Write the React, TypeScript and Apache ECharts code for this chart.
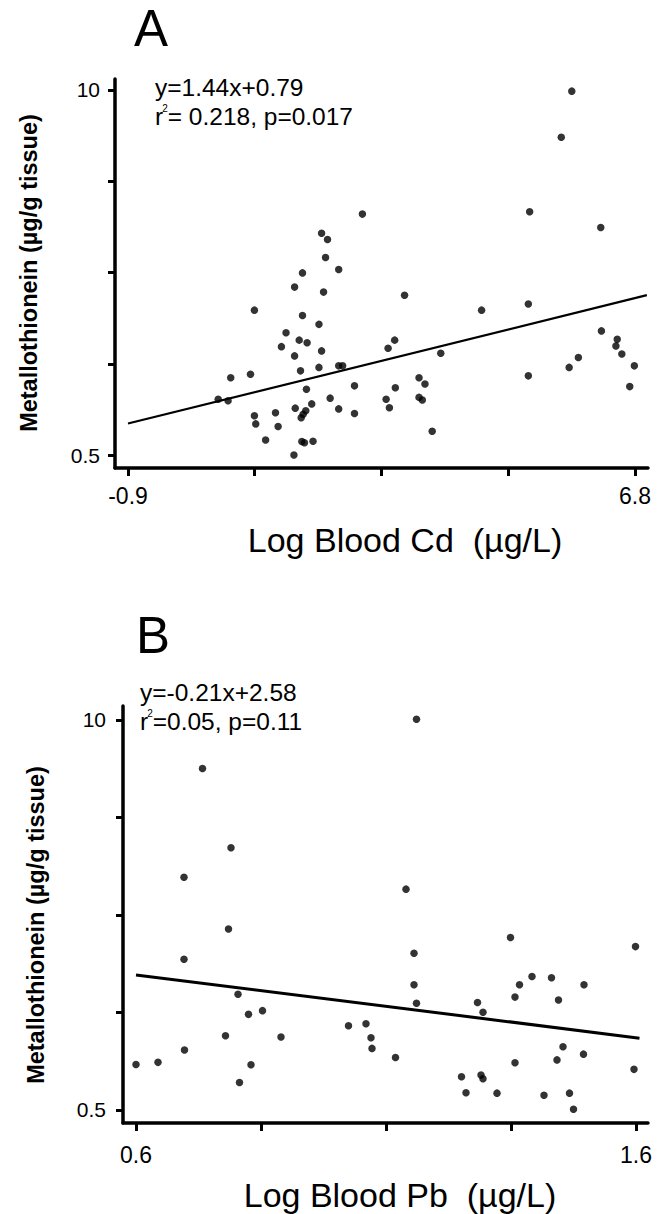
import React, { useEffect, useRef } from "react";
import * as echarts from "echarts";

// Panel A: Log Blood Cd vs Metallothionein
const cdX = [5.84, 5.68, 2.66, 5.2, 6.28, 2.04, 2.13, 2.1, 1.75, 2.3, 1.63, 2.07, 3.3, 1.02, 4.47, 5.18, 1.75, 2.0, 1.5, 6.29, 1.7, 1.82, 3.15, 3.05, 6.53, 6.51, 6.6, 1.43, 2.04, 1.63, 3.85, 5.94, 5.8, 6.79, 2.0, 2.3, 2.36, 1.72, 0.96, 0.66, 5.18, 3.52, 3.61, 2.54, 3.16, 1.81, 6.72, 0.47, 0.62, 2.17, 3.02, 3.52, 3.57, 1.89, 1.64, 2.3, 3.07, 1.8, 2.54, 1.34, 1.02, 1.76, 1.73, 1.04, 1.38, 3.72, 1.19, 1.74, 1.78, 1.91, 1.62];
const cdY = [9.97, 8.77, 6.77, 6.83, 6.42, 6.27, 6.11, 5.64, 5.24, 5.33, 4.87, 4.74, 4.66, 4.27, 4.27, 4.43, 4.13, 3.9, 3.68, 3.73, 3.49, 3.42, 3.49, 3.28, 3.51, 3.34, 3.13, 3.32, 3.21, 3.08, 3.15, 3.04, 2.78, 2.82, 2.78, 2.82, 2.82, 2.69, 2.6, 2.51, 2.56, 2.51, 2.35, 2.3, 2.25, 2.21, 2.28, 1.95, 1.91, 1.98, 1.95, 2.0, 1.93, 1.83, 1.72, 1.7, 1.73, 1.65, 1.58, 1.6, 1.52, 1.56, 1.47, 1.31, 1.24, 1.12, 0.89, 0.85, 0.82, 0.86, 0.5];
const cdFitX = [-0.9, 6.98];
const cdFitY = [1.32, 4.66];
const cdXTicks = [-0.9, 1.025, 2.95, 4.875, 6.8];
const cdXLabels = [-0.9, 6.8];

// Panel B: Log Blood Pb vs Metallothionein
const pbX = [1.161, 0.733, 0.79, 0.696, 1.14, 0.785, 1.349, 1.599, 1.156, 0.696, 1.392, 1.431, 1.156, 1.367, 1.496, 0.804, 1.358, 1.445, 1.283, 1.161, 0.853, 1.294, 0.825, 1.06, 1.025, 0.779, 0.89, 1.07, 1.072, 1.454, 0.697, 1.495, 1.119, 1.442, 0.6, 0.644, 1.358, 0.83, 1.596, 1.251, 1.29, 1.294, 0.807, 1.26, 1.322, 1.416, 1.467, 1.475];
const pbY = [10.02, 8.82, 6.89, 6.17, 5.88, 4.91, 4.7, 4.48, 4.32, 4.17, 3.75, 3.72, 3.55, 3.55, 3.55, 3.32, 3.25, 3.18, 3.12, 3.1, 2.92, 2.88, 2.83, 2.6, 2.55, 2.31, 2.28, 2.26, 2.0, 2.04, 1.96, 1.86, 1.78, 1.72, 1.61, 1.66, 1.65, 1.6, 1.49, 1.31, 1.35, 1.26, 1.17, 0.92, 0.91, 0.86, 0.91, 0.52];
const pbFitX = [0.6, 1.607];
const pbFitY = [3.79, 2.25];
const pbXTicks = [0.6, 0.85, 1.1, 1.35, 1.6];
const pbXLabels = [0.6, 1.6];

// Shared y axis (Metallothionein)
const mtTicks = [0.5, 2.875, 5.25, 7.625, 10];
const mtLabels = [0.5, 10];

const FONT = "'Liberation Sans', Arial, Helvetica, sans-serif";

function txt(text: string, x: number, y: number, size: number, extra: any = {}) {
  return {
    type: "text",
    x,
    y,
    rotation: extra.rotation || 0,
    silent: true,
    style: {
      text,
      fill: "#000",
      fontSize: size,
      fontFamily: FONT,
      fontWeight: extra.weight || "normal",
      align: extra.align || "left",
      textAlign: extra.align || "left",
      verticalAlign: extra.valign || "middle",
      textVerticalAlign: extra.valign || "middle",
    },
  };
}

function rText(before: string, after: string, x: number, y: number) {
  return {
    type: "text",
    x,
    y,
    silent: true,
    style: {
      text: `{r|${before}}{s|2}{r|${after}}`,
      fill: "#000",
      fontFamily: FONT,
      fontSize: 24.5,
      align: "left",
      verticalAlign: "middle",
      rich: {
        r: { fontSize: 24.5, fontFamily: FONT, fill: "#000", lineHeight: 26, verticalAlign: "bottom" },
        s: { fontSize: 10, fontFamily: FONT, fill: "#000", lineHeight: 26, verticalAlign: "top", padding: [0, 0, 0, -1] },
      },
    },
  };
}

function xAxisCfg(grid: number, min: number, max: number, ticks: number[], labels: number[], margin: number) {
  return {
    type: "value",
    gridIndex: grid,
    min,
    max,
    splitLine: { show: false },
    axisLine: { show: true, onZero: false, lineStyle: { color: "#000", width: 3.5 } },
    axisTick: { show: true, customValues: ticks, length: 8, lineStyle: { color: "#000", width: 3 } },
    axisLabel: {
      customValues: labels,
      fontSize: 23,
      color: "#000",
      margin,
      fontFamily: FONT,
      formatter: (v: number) => String(v),
    },
  };
}

function yAxisCfg(grid: number, min: number, max: number, margin: number) {
  return {
    type: "value",
    gridIndex: grid,
    min,
    max,
    splitLine: { show: false },
    axisLine: { show: true, onZero: false, lineStyle: { color: "#000", width: 3.5 } },
    axisTick: { show: true, customValues: mtTicks, length: 7, lineStyle: { color: "#000", width: 3 } },
    axisLabel: {
      customValues: mtLabels,
      fontSize: 21,
      color: "#000",
      margin,
      fontFamily: FONT,
      formatter: (v: number) => String(v),
    },
  };
}

export default function App() {
  const ref = useRef<HTMLDivElement>(null);

  useEffect(() => {
    document.body.style.margin = "0";
    if (!ref.current) return;
    const chart = echarts.init(ref.current, null, { renderer: "svg" });
    const option: any = {
      animation: false,
      backgroundColor: "#fff",
      textStyle: { fontFamily: FONT },
      grid: [
        { left: 115, top: 79, width: 533, height: 389 },
        { left: 123, top: 706, width: 525, height: 417 },
      ],
      xAxis: [
        xAxisCfg(0, -1.0974, 6.9974, cdXTicks, cdXLabels, 16),
        xAxisCfg(1, 0.574, 1.624, pbXTicks, pbXLabels, 20),
      ],
      yAxis: [yAxisCfg(0, 0.162, 10.286, 15), yAxisCfg(1, 0.183, 10.341, 17)],
      series: [
        {
          type: "scatter",
          xAxisIndex: 0,
          yAxisIndex: 0,
          symbol: "circle",
          symbolSize: 7.5,
          itemStyle: { color: "#000" },
          data: cdX.map((x, i) => [x, cdY[i]]),
        },
        {
          type: "line",
          xAxisIndex: 0,
          yAxisIndex: 0,
          symbol: "none",
          lineStyle: { color: "#000", width: 2.2 },
          data: cdFitX.map((x, i) => [x, cdFitY[i]]),
        },
        {
          type: "scatter",
          xAxisIndex: 1,
          yAxisIndex: 1,
          symbol: "circle",
          symbolSize: 7.5,
          itemStyle: { color: "#000" },
          data: pbX.map((x, i) => [x, pbY[i]]),
        },
        {
          type: "line",
          xAxisIndex: 1,
          yAxisIndex: 1,
          symbol: "none",
          lineStyle: { color: "#000", width: 3 },
          data: pbFitX.map((x, i) => [x, pbFitY[i]]),
        },
      ],
      graphic: [
        txt("A", 134, 28, 51),
        txt("B", 136, 635, 51),
        txt("y=1.44x+0.79", 155, 87, 24.5),
        rText("r", "= 0.218, p=0.017", 155, 116),
        txt("y=-0.21x+2.58", 140, 692, 24.5),
        rText("r", "=0.05, p=0.11", 140, 721),
        txt("Metallothionein (µg/g tissue)", 29, 273, 23.5, { rotation: Math.PI / 2, align: "center", weight: "bold" }),
        txt("Metallothionein (µg/g tissue)", 36, 925, 23.5, { rotation: Math.PI / 2, align: "center", weight: "bold" }),
        txt("Log Blood Cd  (µg/L)", 405, 540, 34, { align: "center" }),
        txt("Log Blood Pb  (µg/L)", 400, 1195, 34, { align: "center" }),
      ],
    };
    chart.setOption(option);
    return () => chart.dispose();
  }, []);

  return <div ref={ref} style={{ width: 670, height: 1214 }} />;
}
